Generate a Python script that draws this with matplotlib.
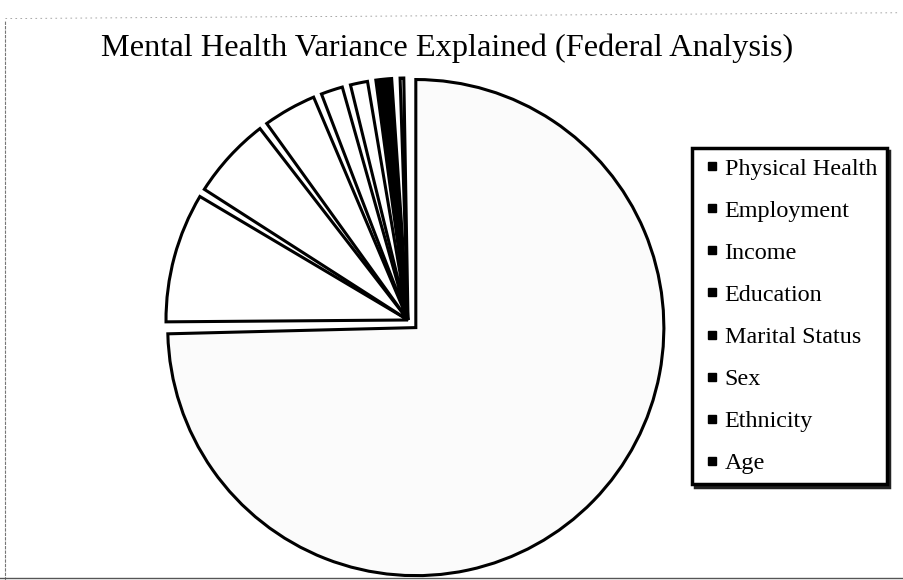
import numpy as np
import matplotlib.pyplot as plt
from matplotlib.lines import Line2D

labels = ['Physical Health', 'Employment', 'Income', 'Education',
          'Marital Status', 'Sex', 'Ethnicity', 'Age']
values = [74.6, 9.2, 6.0, 4.1, 2.0, 1.7, 1.6, 0.8]
colors = ['#fbfbfb', 'white', 'white', 'white', 'white', 'white', 'black', 'white']
explode = [0.045, 0, 0, 0, 0, 0, 0, 0]

plt.rcParams['font.family'] = ['Liberation Serif', 'DejaVu Serif']

fig = plt.figure(figsize=(9.04, 5.80), dpi=100)
fig.patch.set_facecolor('white')

# pie axes: centre about (408, 320) px, radius ~242 px
ax = fig.add_axes([0.1301, -0.0524, 0.6425, 1.0014])
wedges, _ = ax.pie(values, colors=colors, explode=explode, startangle=90,
                   counterclock=False, radius=1.0,
                   wedgeprops=dict(edgecolor='black', linewidth=2.2))
wedges[0].set_radius(1.025)
gap = 2.0
for w in wedges[1:]:
    w.set_theta1(w.theta1 + gap / 2)
    w.set_theta2(w.theta2 - gap / 2)
ax.set_xlim(-1.2, 1.2)
ax.set_ylim(-1.2, 1.2)
ax.axis('off')

fig.text(0.4945, 0.9034, 'Mental Health Variance Explained (Federal Analysis)',
         ha='center', va='baseline', fontsize=23.3)

handles = [Line2D([], [], marker='s', linestyle='none', color='black',
                  markersize=5.5) for _ in labels]
leg = fig.legend(handles, labels, loc='upper left',
                 bbox_to_anchor=(0.7655, 0.7448), fontsize=17.4,
                 handlelength=0.85, handletextpad=0.1, labelspacing=0.835,
                 borderpad=0.4, borderaxespad=0, fancybox=False,
                 frameon=True, shadow={'color': '#222222', 'alpha': 1})
leg.get_frame().set_edgecolor('black')
leg.get_frame().set_linewidth(2.5)

# scanned page edge
fig.add_artist(Line2D([0.006, 0.006], [0.0, 0.965], color='#777777',
                      linewidth=0.8, linestyle=(0, (3, 1))))
fig.add_artist(Line2D([0.006, 0.995], [0.968, 0.978], color='#999999',
                      linewidth=0.6, linestyle=(0, (2, 4))))
fig.add_artist(Line2D([0.0, 1.0], [0.004, 0.004], color='#555555',
                      linewidth=1.0))

fig.savefig('out.png', dpi=100, facecolor='white')
